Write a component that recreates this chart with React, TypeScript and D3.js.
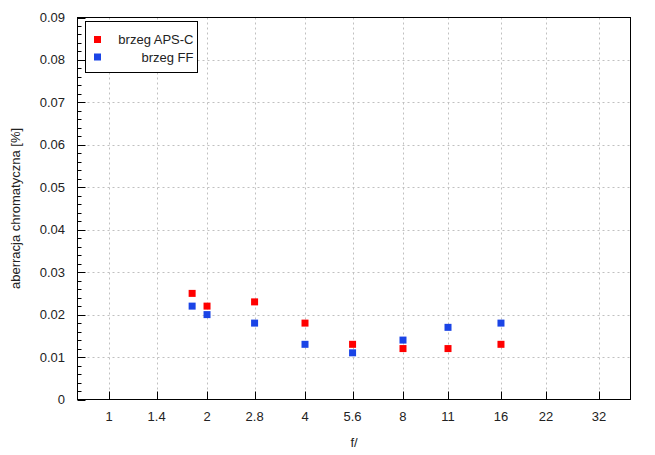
import React from "react";
import * as d3 from "d3";

const fStops = [1.8, 2, 2.8, 4, 5.6, 8, 11, 16];
const apsc = [0.025, 0.022, 0.023, 0.018, 0.013, 0.012, 0.012, 0.013];
const ff = [0.022, 0.02, 0.018, 0.013, 0.011, 0.014, 0.017, 0.018];
const xTicks = [1, 1.4, 2, 2.8, 4, 5.6, 8, 11, 16, 22, 32];
const yTicks = [0, 0.01, 0.02, 0.03, 0.04, 0.05, 0.06, 0.07, 0.08, 0.09];
const seriesNames = ["brzeg APS-C", "brzeg FF"];
const seriesColors = ["#ff0000", "#1a44e6"];

const W = 655, H = 455;
const L = 77.5, R = 630.5, T = 17.5, B = 399.5;
const FONT = "'Liberation Sans', Arial, sans-serif";

export default function App() {
  const x = d3.scaleLog().domain([0.8, 40]).range([L, R]);
  const y = d3.scaleLinear().domain([0, 0.09]).range([B, T]);
  const minor = d3.range(0, 0.0901, 0.002).filter((v) => Math.abs(Math.round(v * 100) - v * 100) > 1e-6);
  const series = [apsc, ff];
  const ms = 7;
  return (
    <svg width={W} height={H} style={{ position: "absolute", left: 0, top: 0, background: "#fff" }} fontFamily={FONT}>
      <rect x={0} y={0} width={W} height={H} fill="#fff" />
      {/* grid */}
      {xTicks.map((t) => (
        <line key={"gx" + t} x1={Math.round(x(t)) + 0.5} x2={Math.round(x(t)) + 0.5} y1={T} y2={B} stroke="#c0c0c0" strokeDasharray="2,3" />
      ))}
      {yTicks.slice(1, -1).map((t) => (
        <line key={"gy" + t} x1={L} x2={R} y1={Math.round(y(t)) + 0.5} y2={Math.round(y(t)) + 0.5} stroke="#c0c0c0" strokeDasharray="2,3" />
      ))}
      {/* ticks */}
      {xTicks.map((t) => (
        <g key={"xt" + t}>
          <line x1={Math.round(x(t)) + 0.5} x2={Math.round(x(t)) + 0.5} y1={B} y2={B - 8} stroke="#000" />
          <text x={x(t)} y={421} fontSize={13} textAnchor="middle" fill="#222">{String(t)}</text>
        </g>
      ))}
      {yTicks.map((t) => (
        <g key={"yt" + t}>
          <line x1={L} x2={L + 8} y1={Math.round(y(t)) + 0.5} y2={Math.round(y(t)) + 0.5} stroke="#000" />
          <text x={65} y={y(t) + 4.5} fontSize={13} textAnchor="end" fill="#222">{String(t)}</text>
        </g>
      ))}
      {minor.map((t) => (
        <line key={"ym" + t} x1={L} x2={L + 4} y1={Math.round(y(t)) + 0.5} y2={Math.round(y(t)) + 0.5} stroke="#000" />
      ))}
      {/* frame */}
      <rect x={L} y={T} width={R - L} height={B - T} fill="none" stroke="#000" strokeWidth={1} />
      {/* points */}
      {series.map((s, si) =>
        s.map((v, i) => (
          <rect key={si + "-" + i} x={x(fStops[i]) - ms / 2} y={y(v) - ms / 2} width={ms} height={ms} fill={seriesColors[si]} />
        ))
      )}
      {/* legend */}
      <rect x={85.5} y={21.5} width={112} height={51} fill="#fff" stroke="#000" />
      {seriesNames.map((n, i) => (
        <g key={n}>
          <rect x={97.5 - ms / 2} y={39.5 + i * 17.5 - ms / 2} width={ms} height={ms} fill={seriesColors[i]} />
          <text x={193.5} y={39.5 + i * 17.5 + 4.5} fontSize={13} textAnchor="end" fill="#222">{n}</text>
        </g>
      ))}
      {/* axis labels */}
      <text x={(L + R) / 2} y={447} fontSize={13} textAnchor="middle" fill="#222">f/</text>
      <text transform={`translate(20, ${(T + B) / 2}) rotate(-90)`} fontSize={13} textAnchor="middle" fill="#222">aberracja chromatyczna [%]</text>
    </svg>
  );
}
